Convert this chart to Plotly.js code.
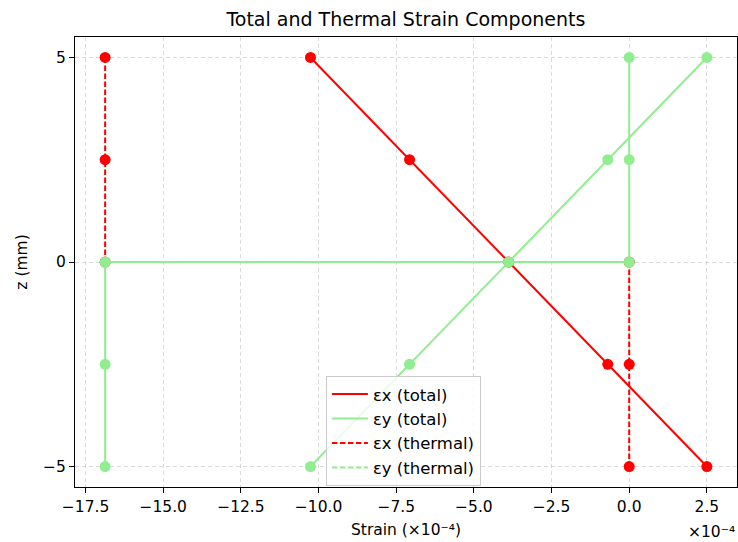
<!DOCTYPE html>
<html>
<head>
<meta charset="utf-8">
<script src="https://cdn.plot.ly/plotly-3.0.1.min.js"></script>
<style>html,body{margin:0;padding:0;background:#fff;}#chart{width:738px;height:542px;}</style>
</head>
<body>
<div id="chart"></div>
<script>
// Data (strain in units of 1e-4, z in mm)
const zTotal = [5, 2.5, 0, -2.5, -5];
const exTotal = [-10.26, -7.07, -3.88, -0.69, 2.50];
const eyTotal = [2.50, -0.69, -3.88, -7.07, -10.26];
const zThermal = [5, 2.5, 0, 0, -2.5, -5];
const exThermal = [-16.87, -16.87, -16.87, 0, 0, 0];
const eyThermal = [0, 0, 0, -16.87, -16.87, -16.87];
const seriesNames = ["εx (total)", "εy (total)", "εx (thermal)", "εy (thermal)"];
const xTickVals = [-17.5, -15, -12.5, -10, -7.5, -5, -2.5, 0, 2.5];
const xTickText = ["−17.5", "−15.0", "−12.5", "−10.0", "−7.5", "−5.0", "−2.5", "0.0", "2.5"];
const yTickVals = [-5, 0, 5];
const yTickText = ["−5", "0", "5"];

const RED = "#ff0000", GREEN = "#90ee90";
const FONT = "DejaVu Sans, sans-serif";
const FS = 15.5;
const DASH = "5.5px,2.5px";

const traces = [
  {x: exTotal, y: zTotal, mode: "lines+markers", line: {color: RED, width: 2}, marker: {color: RED, size: 11}, showlegend: false},
  {x: eyTotal, y: zTotal, mode: "lines+markers", line: {color: GREEN, width: 2}, marker: {color: GREEN, size: 11}, showlegend: false},
  {x: exThermal, y: zThermal, mode: "lines+markers", line: {color: RED, width: 2, dash: DASH}, marker: {color: RED, size: 11}, showlegend: false},
  {x: eyThermal, y: zThermal, mode: "lines+markers", line: {color: GREEN, width: 2}, marker: {color: GREEN, size: 11}, showlegend: false},
  // legend entries (line only, as in the reference)
  {x: [null], y: [null], mode: "lines", name: seriesNames[0], line: {color: RED, width: 2}},
  {x: [null], y: [null], mode: "lines", name: seriesNames[1], line: {color: GREEN, width: 2}},
  {x: [null], y: [null], mode: "lines", name: seriesNames[2], line: {color: RED, width: 2, dash: DASH}},
  {x: [null], y: [null], mode: "lines", name: seriesNames[3], line: {color: GREEN, width: 2, dash: DASH}}
];

const axisCommon = {
  showline: true, mirror: true, linecolor: "#000", linewidth: 1,
  ticks: "outside", ticklen: 5, tickwidth: 1, tickcolor: "#000",
  showgrid: true, gridcolor: "rgba(176,176,176,0.45)", griddash: "4px,3px", gridwidth: 1,
  zeroline: false, tickfont: {family: FONT, size: FS, color: "#000"}
};

const layout = {
  width: 738, height: 542,
  margin: {l: 75, r: 1, t: 37, b: 55},
  paper_bgcolor: "#fff", plot_bgcolor: "#fff",
  font: {family: FONT, color: "#000"},
  title: {text: "Total and Thermal Strain Components", font: {family: FONT, size: 19, color: "#000"}, x: 0.55, xanchor: "center", y: 0.965, yanchor: "middle"},
  xaxis: Object.assign({}, axisCommon, {
    range: [-17.84, 3.47], tickvals: xTickVals, ticktext: xTickText,
    title: {text: "Strain (×10⁻⁴)", font: {family: FONT, size: FS}, standoff: 9}
  }),
  yaxis: Object.assign({}, axisCommon, {
    range: [-5.5, 5.5], tickvals: yTickVals, ticktext: yTickText,
    title: {text: "z (mm)", font: {family: FONT, size: FS}, standoff: 11}
  }),
  legend: {
    x: 0.379, y: 0.247, xanchor: "left", yanchor: "top",
    bgcolor: "rgba(255,255,255,0.8)", bordercolor: "#cccccc", borderwidth: 1,
    font: {family: FONT, size: 16.5, color: "#000"}, itemwidth: 36
  },
  annotations: [
    {text: "×10⁻⁴", xref: "paper", yref: "paper", x: 1, y: 0, xanchor: "right", yanchor: "top", yshift: -34, showarrow: false, font: {family: FONT, size: FS, color: "#000"}}
  ]
};

Plotly.newPlot("chart", traces, layout, {displayModeBar: false, staticPlot: true});
</script>
</body>
</html>
